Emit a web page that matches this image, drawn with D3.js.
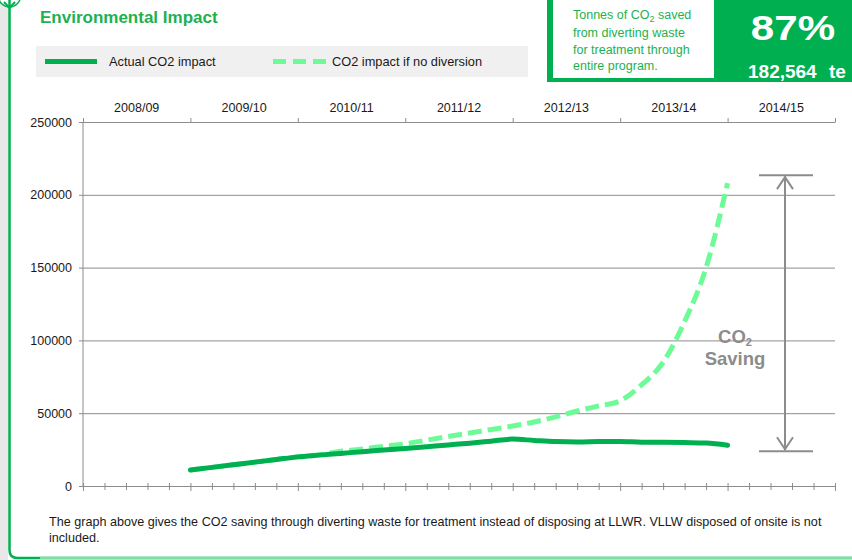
<!DOCTYPE html>
<html>
<head>
<meta charset="utf-8">
<script src="https://cdn.jsdelivr.net/npm/d3@7"></script>
<style>
  body { margin: 0; background: #fff; }
  svg { display: block; font-family: "Liberation Sans", Arial, sans-serif; }
  .axis path, .axis line { stroke: #8c8c8c; }
  .axis text { fill: #1a1a1a; font-size: 12.5px; }
  .grid line { stroke: #8c8c8c; }
  .grid path { display: none; }
</style>
</head>
<body>
<svg id="chart" width="852" height="560"></svg>
<script>
// categories (financial years) along the top axis
const years = ["2008/09", "2009/10", "2010/11", "2011/12", "2012/13", "2013/14", "2014/15"];
// bottom axis has 5 sub-periods per year
const periodsPerYear = 5;
const yTicks = [0, 50000, 100000, 150000, 200000, 250000];

// series, starting at period 5 (start of 2009/10)
const startPeriod = 5;
const actual = [11000, 12800, 14600, 16400, 18200, 20000, 21200, 22400, 23600, 24700,
                25800, 27000, 28200, 29400, 30800, 32200, 31300, 30500, 30200, 30500,
                30600, 30100, 30000, 29800, 29500, 28000];
const noDiversion = [11000, 12800, 14600, 16400, 18200, 20000, 21400, 23800, 25400, 27300,
                     29000, 31500, 34000, 36400, 38800, 41200, 44000, 47500, 51500, 55000,
                     58500, 69500, 85000, 113000, 150000, 208000];

const svg = d3.select("#chart");
const green = "#00b050";
const lightGreen = "#6dfb98";

// page frame
svg.append("rect").attr("x", 0).attr("y", 0).attr("width", 8).attr("height", 560).attr("fill", "#e8e8e8");
svg.append("path")
  .attr("d", "M9.5,0 L9.5,550 Q9.5,558 17.5,558 L852,558")
  .attr("fill", "none").attr("stroke", "#00b050").attr("stroke-width", 2.5);
svg.append("path")
  .attr("d", "M40,558 L852,558")
  .attr("fill", "none").attr("stroke", "#7fdca2").attr("stroke-width", 2.5);
svg.append("circle").attr("cx", 9.5).attr("cy", -4).attr("r", 11)
  .attr("fill", "#fff").attr("stroke", "#00b050").attr("stroke-width", 1.5);
svg.append("path").attr("d", "M4,2 L9.5,8 L15,2").attr("fill", "none")
  .attr("stroke", "#00b050").attr("stroke-width", 2);
svg.append("line").attr("x1", 9.5).attr("x2", 9.5).attr("y1", -4).attr("y2", 8)
  .attr("stroke", "#00b050").attr("stroke-width", 2.5);

// title
svg.append("text").attr("x", 40).attr("y", 23).text("Environmental Impact")
  .attr("fill", "#1db14f").attr("font-size", "17px").attr("font-weight", "bold");

// legend
svg.append("rect").attr("x", 36).attr("y", 46).attr("width", 492).attr("height", 31).attr("fill", "#f0f0f0");
svg.append("line").attr("x1", 45).attr("x2", 97).attr("y1", 61.5).attr("y2", 61.5)
  .attr("stroke", green).attr("stroke-width", 5);
svg.append("text").attr("x", 109).attr("y", 66).text("Actual CO2 impact")
  .attr("font-size", "12.8px").attr("fill", "#1a1a1a");
svg.append("line").attr("x1", 273).attr("x2", 327).attr("y1", 61.5).attr("y2", 61.5)
  .attr("stroke", lightGreen).attr("stroke-width", 5).attr("stroke-dasharray", "13,7");
svg.append("text").attr("x", 332).attr("y", 66).text("CO2 impact if no diversion")
  .attr("font-size", "12.8px").attr("fill", "#1a1a1a");

// summary box
svg.append("rect").attr("x", 547).attr("y", -2).attr("width", 310).attr("height", 84).attr("fill", green);
svg.append("rect").attr("x", 553).attr("y", -2).attr("width", 161).attr("height", 80).attr("fill", "#fff");
const note = svg.append("text").attr("fill", "#1db14f").attr("font-size", "12.5px");
note.append("tspan").attr("x", 573).attr("y", 18.5).text("Tonnes of CO")
  .append("tspan").attr("font-size", "9px").attr("dy", 3).text("2");
note.append("tspan").attr("dy", -3).text(" saved");
note.append("tspan").attr("x", 573).attr("y", 36.5).text("from diverting waste");
note.append("tspan").attr("x", 573).attr("y", 53.5).text("for treatment through");
note.append("tspan").attr("x", 573).attr("y", 69.5).text("entire program.");
svg.append("text").attr("transform", "translate(793,40) scale(1.17,1)")
  .attr("text-anchor", "middle").text("87%")
  .attr("fill", "#fff").attr("font-size", "36px").attr("font-weight", "bold");
svg.append("text").attr("x", 748).attr("y", 78).text("182,564")
  .attr("fill", "#fff").attr("font-size", "19px").attr("font-weight", "bold");
svg.append("text").attr("x", 829).attr("y", 78).text("te")
  .attr("fill", "#fff").attr("font-size", "19px").attr("font-weight", "bold");

// scales
const plotL = 83, plotR = 835, plotT = 122, plotB = 486;
const nPeriods = years.length * periodsPerYear;
const x = d3.scaleLinear().domain([0, nPeriods]).range([plotL, plotR]);
const xBand = d3.scaleBand().domain(years).range([plotL, plotR]);
const y = d3.scaleLinear().domain([0, 250000]).range([plotB, plotT]);

// gridlines
svg.append("g").attr("class", "grid")
  .attr("transform", `translate(${plotL},0)`)
  .call(d3.axisLeft(y).tickValues(yTicks.slice(1)).tickSize(-(plotR - plotL)).tickFormat(""));

// y axis
svg.append("g").attr("class", "axis")
  .attr("transform", `translate(${plotL},0)`)
  .call(d3.axisLeft(y).tickValues(yTicks).tickSize(4).tickPadding(7).tickFormat(d3.format("d")))
  .call(g => g.select(".domain").attr("d", `M0,${plotT}V${plotB}`));

// top axis: boundary ticks + year labels
svg.append("g").attr("class", "axis")
  .attr("transform", `translate(0,${plotT})`)
  .call(d3.axisTop(x).tickValues(d3.range(0, nPeriods + 1, periodsPerYear)).tickSize(4).tickSizeOuter(0).tickFormat(""));
svg.append("g").attr("class", "axis")
  .attr("transform", `translate(0,${plotT - 7})`)
  .call(d3.axisTop(xBand).tickSize(0))
  .call(g => g.select(".domain").remove());

// bottom axis: period ticks crossing the line
svg.append("g").attr("class", "axis")
  .attr("transform", `translate(0,${plotB})`)
  .call(d3.axisBottom(x).tickValues(d3.range(0, nPeriods + 1)).tickSize(4).tickSizeOuter(0).tickFormat(""))
  .call(g => g.selectAll(".tick line").attr("y1", -3)
    .attr("y2", d => d % periodsPerYear === 0 ? 5 : 4));

// lines
const line = d3.line()
  .x((d, i) => x(startPeriod + i))
  .y(d => y(d))
  .curve(d3.curveMonotoneX);

svg.append("path").datum(noDiversion)
  .attr("d", line).attr("fill", "none")
  .attr("stroke", lightGreen).attr("stroke-width", 5)
  .attr("stroke-dasharray", "14,6");
svg.append("path").datum(actual)
  .attr("d", line).attr("fill", "none")
  .attr("stroke", green).attr("stroke-width", 5).attr("stroke-linecap", "round");

// saving annotation
const lastIdx = noDiversion.length - 1;
const yTop = y(noDiversion[lastIdx]) - 8, yBot = y(actual[lastIdx]) + 6;
const ax = 785;
const ann = svg.append("g").attr("stroke", "#8c8c8c").attr("stroke-width", 2).attr("fill", "none");
ann.append("line").attr("x1", 759).attr("x2", 813).attr("y1", yTop).attr("y2", yTop);
ann.append("line").attr("x1", 759).attr("x2", 813).attr("y1", yBot).attr("y2", yBot);
ann.append("line").attr("x1", ax).attr("x2", ax).attr("y1", yTop + 1).attr("y2", yBot - 1);
ann.append("path").attr("d", `M${ax - 8},${yTop + 14}L${ax},${yTop + 2}L${ax + 8},${yTop + 14}`);
ann.append("path").attr("d", `M${ax - 8},${yBot - 14}L${ax},${yBot - 2}L${ax + 8},${yBot - 14}`);

const sv = svg.append("text").attr("fill", "#8c8c8c").attr("font-size", "18.5px")
  .attr("font-weight", "bold").attr("text-anchor", "middle");
sv.append("tspan").attr("x", 735).attr("y", 343).text("CO")
  .append("tspan").attr("font-size", "11px").attr("dy", 3).text("2");
sv.append("tspan").attr("x", 735).attr("y", 365).text("Saving");

// caption
const cap = svg.append("text").attr("font-size", "12.6px").attr("fill", "#1a1a1a");
cap.append("tspan").attr("x", 49).attr("y", 525.5)
  .text("The graph above gives the CO2 saving through diverting waste for treatment instead of disposing at LLWR. VLLW disposed of onsite is not");
cap.append("tspan").attr("x", 49).attr("y", 541.5).text("included.");
</script>
</body>
</html>
